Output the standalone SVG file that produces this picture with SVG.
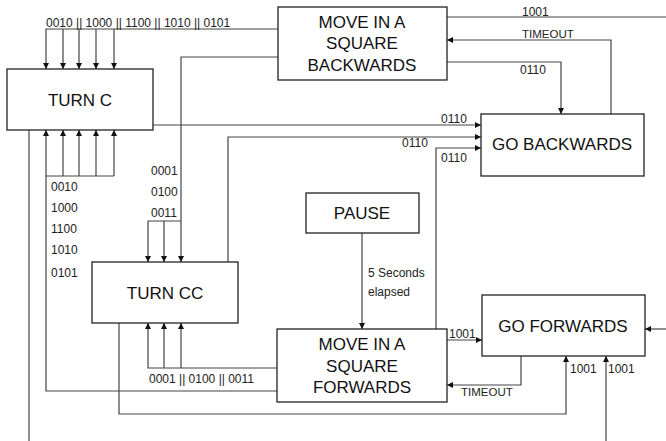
<svg xmlns="http://www.w3.org/2000/svg" width="666" height="441" viewBox="0 0 666 441">
<defs>
<marker id="arr" viewBox="0 0 6 6" refX="6" refY="3" markerWidth="6" markerHeight="6" markerUnits="userSpaceOnUse" orient="auto">
<path d="M0,0 L6,3 L0,6 z" fill="#111"/>
</marker>
<style>
.box{fill:#fff;stroke:#222;stroke-width:1.3}
.bt{font-family:"Liberation Sans",Arial,sans-serif;font-size:17px;fill:#111;text-anchor:middle}
.c{fill:none;stroke:#444;stroke-width:1.2}
.a{marker-end:url(#arr)}
.l{font-family:"Liberation Sans",Arial,sans-serif;font-size:12px;fill:#222}
.s{font-size:11.5px}
</style>
</defs>
<rect width="666" height="441" fill="#fff"/>
<g id="connectors">
<path class="c a" d="M278,29 H46 V69"/>
<path class="c a" d="M63,29 V69"/>
<path class="c a" d="M79,29 V69"/>
<path class="c a" d="M96,29 V69"/>
<path class="c a" d="M114,29 V69"/>
<path class="c a" d="M277,391 H46 V130"/>
<path class="c" d="M46,176 H114"/>
<path class="c a" d="M63,176 V130"/>
<path class="c a" d="M79,176 V130"/>
<path class="c a" d="M96,176 V130"/>
<path class="c a" d="M114,176 V130"/>
<path class="c" d="M29,130 V441"/>
<path class="c a" d="M153,125 H481"/>
<path class="c a" d="M278,57 H181 V262"/>
<path class="c a" d="M181,221 H148 V262"/>
<path class="c a" d="M164,221 V262"/>
<path class="c a" d="M228,262 V137 H481"/>
<path class="c a" d="M436,329 V148 H481"/>
<path class="c" d="M447,17 H666"/>
<path class="c a" d="M611,114 V40 H447"/>
<path class="c a" d="M447,62 H561 V114"/>
<path class="c a" d="M362,233 V329"/>
<path class="c a" d="M447,340 H482"/>
<path class="c a" d="M521,356 V385 H447"/>
<path class="c a" d="M119,323 V414 H566 V356"/>
<path class="c a" d="M606,441 V356"/>
<path class="c a" d="M666,329 H645"/>
<path class="c a" d="M277,368 H148 V323"/>
<path class="c a" d="M164,368 V323"/>
<path class="c a" d="M181,368 V323"/>
<text class="l" x="46" y="27">0010 || 1000 || 1100 || 1010 || 0101</text>
<text class="l" x="51" y="191">0010</text>
<text class="l" x="51" y="212">1000</text>
<text class="l" x="51" y="233">1100</text>
<text class="l" x="51" y="254">1010</text>
<text class="l" x="51" y="277">0101</text>
<text class="l" x="151" y="175">0001</text>
<text class="l" x="151" y="196">0100</text>
<text class="l" x="151" y="217">0011</text>
<text class="l" x="149" y="383">0001 || 0100 || 0011</text>
<text class="l" x="522" y="16">1001</text>
<text class="l s" x="522" y="38">TIMEOUT</text>
<text class="l" x="520" y="74">0110</text>
<text class="l" x="441" y="123">0110</text>
<text class="l" x="402" y="147">0110</text>
<text class="l" x="441" y="162">0110</text>
<text class="l" x="368" y="277">5 Seconds</text>
<text class="l" x="368" y="296">elapsed</text>
<text class="l" x="449" y="338">1001</text>
<text class="l s" x="461" y="396">TIMEOUT</text>
<text class="l" x="570" y="373">1001</text>
<text class="l" x="608" y="373">1001</text>
</g>
<g id="turn-c">
<rect class="box" x="7" y="69" width="146" height="61"/>
<text class="bt" x="80" y="106">TURN C</text>
</g>
<g id="turn-cc">
<rect class="box" x="92" y="262" width="146" height="61"/>
<text class="bt" x="165" y="299">TURN CC</text>
</g>
<g id="move-back">
<rect class="box" x="278" y="7" width="169" height="73"/>
<text class="bt" x="362" y="28">MOVE IN A</text>
<text class="bt" x="362" y="49">SQUARE</text>
<text class="bt" x="362" y="71">BACKWARDS</text>
</g>
<g id="go-back">
<rect class="box" x="481" y="114" width="163" height="62"/>
<text class="bt" x="562" y="150">GO BACKWARDS</text>
</g>
<g id="pause">
<rect class="box" x="306" y="193" width="113" height="40"/>
<text class="bt" x="362" y="219">PAUSE</text>
</g>
<g id="move-fwd">
<rect class="box" x="277" y="329" width="170" height="73"/>
<text class="bt" x="362" y="350">MOVE IN A</text>
<text class="bt" x="362" y="372">SQUARE</text>
<text class="bt" x="362" y="393">FORWARDS</text>
</g>
<g id="go-fwd">
<rect class="box" x="482" y="295" width="163" height="61"/>
<text class="bt" x="563" y="332">GO FORWARDS</text>
</g>
</svg>
